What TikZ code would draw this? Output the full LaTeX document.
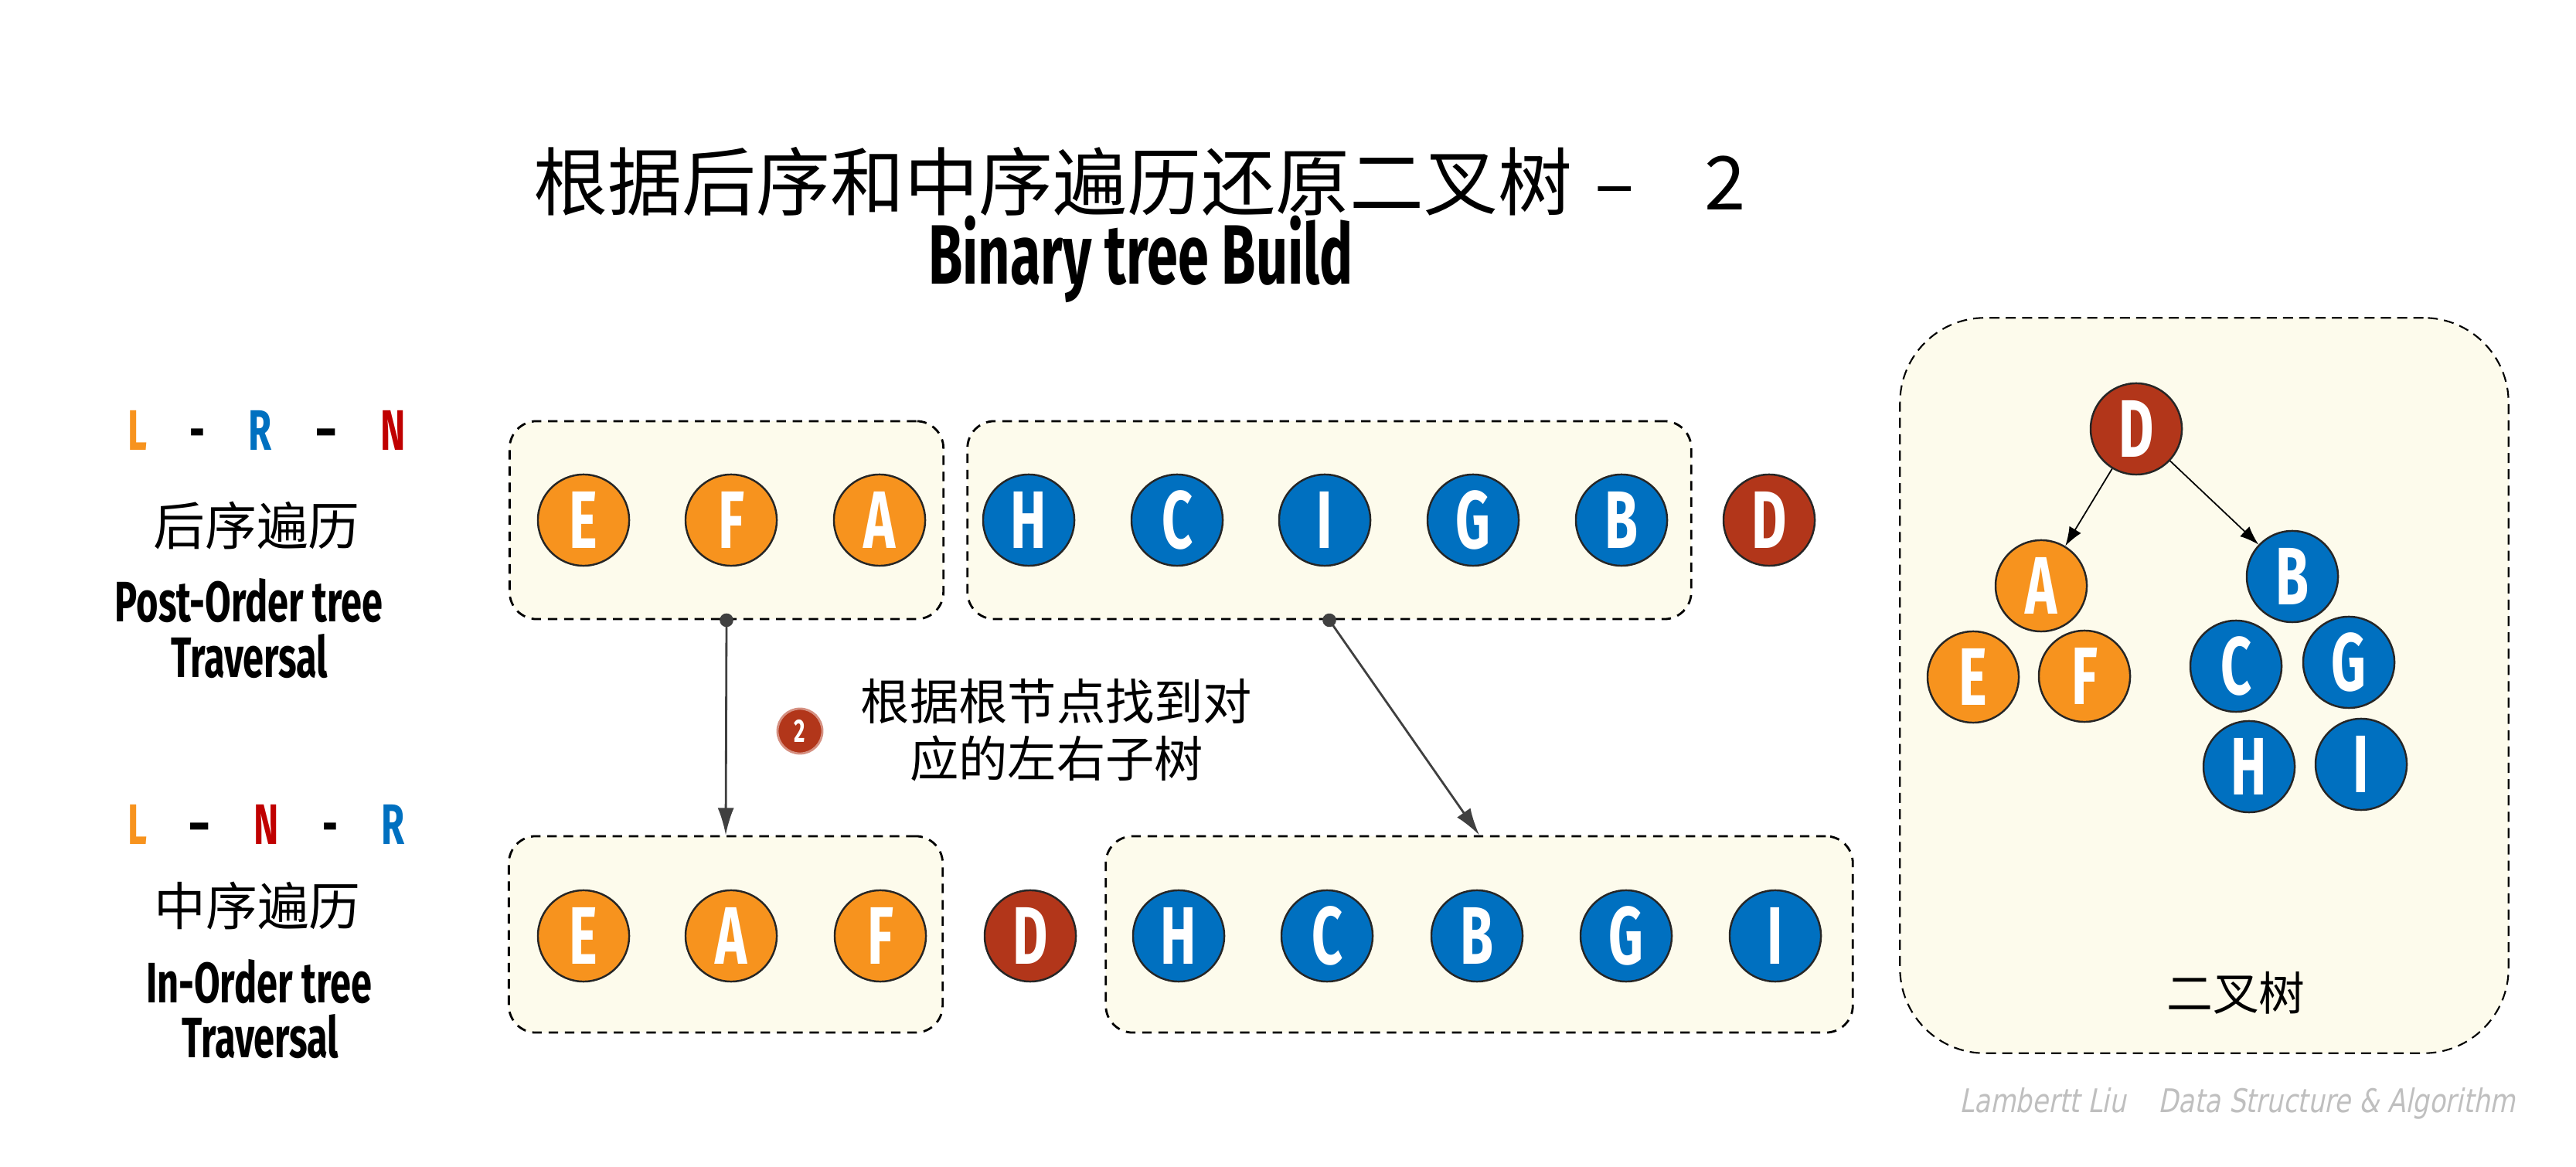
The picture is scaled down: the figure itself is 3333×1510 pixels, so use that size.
\documentclass[tikz,border=0pt]{standalone}
\usepackage{fontspec}
\usepackage{tikz}
\usetikzlibrary{arrows.meta}
\tikzset{>=latex}
\newfontfamily\cjk{Noto Sans CJK SC}
\newfontfamily\cond[FakeStretch=0.66]{Fira Sans}
\newfontfamily\wmfont[FakeStretch=0.8,FakeSlant=0.2]{DejaVu Sans}
\definecolor{leftcol}{HTML}{F7931E}
\definecolor{rightcol}{HTML}{0070C0}
\definecolor{rootcol}{HTML}{B2361A}
\definecolor{ncol}{HTML}{C00000}
\definecolor{boxfill}{HTML}{FDFBEC}
\definecolor{flowcol}{HTML}{404040}
\tikzstyle{ball}=[circle,draw=black!85,line width=0.7pt,minimum size=1.18cm,inner sep=0pt,text=white,font=\cond\bfseries\fontsize{30}{30}\selectfont]
\tikzstyle{orangeball}=[ball,fill=leftcol]
\tikzstyle{blueball}=[ball,fill=rightcol]
\tikzstyle{redball}=[ball,fill=rootcol]
\tikzstyle{group}=[draw,fill=boxfill,line width=0.8pt,dash pattern=on 3.5pt off 2.5pt,rounded corners=0.35cm,inner sep=0pt]
\tikzstyle{flow}=[draw=flowcol,line width=0.8pt,{Circle[length=5pt]}-{Latex[length=10pt,width=6pt]},shorten <=-2.5pt,flowcol]
\tikzstyle{treeedge}=[draw,line width=0.5pt,-{Latex[length=7pt,width=5pt]}]
\tikzstyle{order}=[anchor=base,font=\cond\bfseries\fontsize{21}{21}\selectfont]
\tikzstyle{cnlabel}=[font=\cjk\fontsize{19}{19}\selectfont]
\tikzstyle{enlabel}=[anchor=base,font=\cond\bfseries\fontsize{21}{21}\selectfont]

\begin{document}
\begin{tikzpicture}[x=0.01cm,y=-0.01cm]
  \def\rowA{673}
  \def\rowB{1211}
  \useasboundingbox (0,0) rectangle (3333,1510);
  % titles
  \node[font=\cjk\fontsize{27.3}{27.3}\selectfont] (title) at (1475,235)
    {根据后序和中序遍历还原二叉树\hspace{8pt}–\hspace{26pt}2};
  \node[anchor=base,font=\cond\bfseries\fontsize{31}{31}\selectfont] (subtitle) at (1476,368) {Binary tree Build};
  % left labels
  \node[order,leftcol] (postL) at (178,583) {L};
  \node[order] (postd1) at (255,583) {-};
  \node[order,rightcol] (postR) at (337,583) {R};
  \node[order] (postd2) at (422,583) {–};
  \node[order,ncol] (postN) at (509,583) {N};
  \node[cnlabel] (postcn) at (332,680) {后序遍历};
  \node[enlabel] (posten) at (322,805) {Post-Order tree};
  \node[enlabel] (posttr) at (323,877) {Traversal};
  \node[order,leftcol] (inL) at (178,1093) {L};
  \node[order] (ind1) at (258,1093) {–};
  \node[order,ncol] (inN) at (345,1093) {N};
  \node[order] (ind2) at (427,1093) {-};
  \node[order,rightcol] (inR) at (509,1093) {R};
  \node[cnlabel] (incn) at (333,1172) {中序遍历};
  \node[enlabel] (inen) at (335,1297) {In-Order tree};
  \node[enlabel] (intr) at (337,1368) {Traversal};
  % groups
  \node[group,minimum width=5.61cm,minimum height=2.56cm] (post1) at (940,\rowA) {};
  \node[group,minimum width=9.36cm,minimum height=2.56cm] (post2) at (1720,\rowA) {};
  \node[group,minimum width=5.61cm,minimum height=2.54cm] (in1) at (939,1209) {};
  \node[group,minimum width=9.66cm,minimum height=2.54cm] (in2) at (1914,1209) {};
  % post-order row
  \foreach \n/\x/\s in {E/755/orangeball,F/946/orangeball,A/1138/orangeball,
      H/1331/blueball,C/1523/blueball,I/1714/blueball,G/1906/blueball,
      B/2098/blueball,D/2289/redball}
    \node[\s] (post\n) at (\x,\rowA) {\n};
  % in-order row
  \foreach \n/\x/\s in {E/755/orangeball,A/946/orangeball,F/1139/orangeball,
      D/1333/redball,H/1525/blueball,C/1717/blueball,B/1911/blueball,
      G/2104/blueball,I/2297/blueball}
    \node[\s] (in\n) at (\x,\rowB) {\n};
  % step 2
  \draw[flow] (post1.south) -- (in1.north);
  \draw[flow] (post2.south) -- (in2.north);
  \node[circle,fill=rootcol,draw=rootcol!55,line width=0.8pt,minimum size=0.58cm,inner sep=0pt,
    text=white,font=\cond\bfseries\fontsize{12}{12}\selectfont] (step) at (1035,946) {2};
  \node[cnlabel,align=center,font=\cjk\fontsize{18}{21}\selectfont] (hint) at (1367,945)
    {根据根节点找到对\\应的左右子树};
  % result tree
  \node[group,minimum width=7.87cm,minimum height=9.51cm,rounded corners=1.1cm,
    line width=0.6pt,dash pattern=on 3.7pt off 2.3pt] (treebox) at (2852,887) {};
  \node[redball] (treeD) at (2764,555) {D};
  \node[orangeball] (treeA) at (2641,758) {A};
  \node[orangeball] (treeE) at (2553,876) {E};
  \node[orangeball] (treeF) at (2697,875) {F};
  \node[blueball] (treeB) at (2966,746) {B};
  \node[blueball] (treeC) at (2893,862) {C};
  \node[blueball] (treeG) at (3039,857) {G};
  \node[blueball] (treeH) at (2910,992) {H};
  \node[blueball] (treeI) at (3055,989) {I};
  \draw[treeedge] (treeD) -- (treeA);
  \draw[treeedge] (treeD) -- (treeB);
  \node[cnlabel,font=\cjk\fontsize{17}{17}\selectfont] (treename) at (2893,1285) {二叉树};
  % watermark
  \node[font=\wmfont\fontsize{12}{12}\selectfont,text=black!25] (mark) at (2895,1428)
    {Lambertt Liu\hspace{12pt}Data Structure \& Algorithm};
\end{tikzpicture}
\end{document}
